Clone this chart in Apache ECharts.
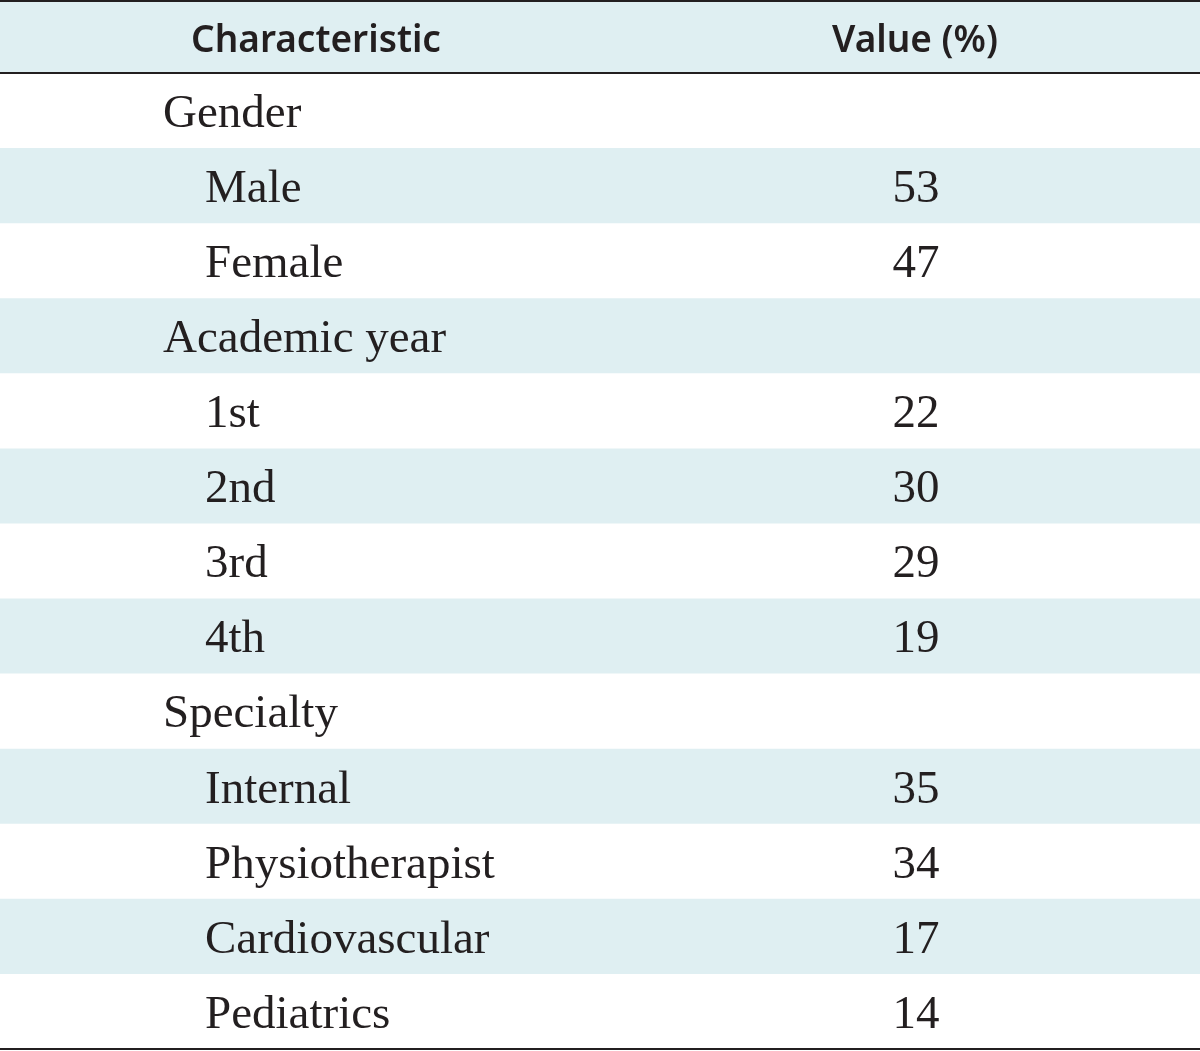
<!DOCTYPE html>
<html>
<head>
<meta charset="utf-8">
<script src="https://cdn.jsdelivr.net/npm/echarts@6/dist/echarts.min.js"></script>
<style>html,body{margin:0;padding:0;background:#fff}#c{width:1200px;height:1051px}</style>
</head>
<body>
<div id="c"></div>
<script>
const headers = ['Characteristic', 'Value (%)'];
const groups = ['Gender', 'Academic year', 'Specialty'];
const genderItems = ['Male', 'Female'];
const genderValues = [53, 47];
const yearItems = ['1st', '2nd', '3rd', '4th'];
const yearValues = [22, 30, 29, 19];
const specialtyItems = ['Internal', 'Physiotherapist', 'Cardiovascular', 'Pediatrics'];
const specialtyValues = [35, 34, 17, 14];

// build rows: [rowIndex, label, value, level]
const rows = [];
function addGroup(name, items, vals) {
  rows.push([rows.length, name, '', 0]);
  items.forEach((it, i) => rows.push([rows.length, it, String(vals[i]), 1]));
}
addGroup(groups[0], genderItems, genderValues);
addGroup(groups[1], yearItems, yearValues);
addGroup(groups[2], specialtyItems, specialtyValues);
const rowNames = rows.map(r => r[1]);

const BLUE = '#dfeff2';
const INK = '#231f20';
const SERIF = '"Liberation Serif", "DejaVu Serif", serif';
const SANS = '"Noto Sans", "Open Sans", sans-serif';

const chart = echarts.init(document.getElementById('c'), null, {renderer: 'canvas'});
chart.setOption({
  animation: false,
  backgroundColor: '#fff',
  grid: {left: 0, right: 0, top: 73, bottom: 2},
  xAxis: [{
    type: 'value', min: 0, max: 1200, position: 'top',
    axisLine: {show: false}, axisTick: {show: false}, axisLabel: {show: false}, splitLine: {show: false}
  }],
  yAxis: {
    type: 'category', data: rowNames, inverse: true,
    axisLine: {show: false}, axisTick: {show: false}, axisLabel: {show: false}, splitLine: {show: false}
  },
  graphic: [
    {type: 'rect', shape: {x: 0, y: 2, width: 1200, height: 71}, style: {fill: BLUE}, z: 0},
    {type: 'rect', shape: {x: 0, y: 0, width: 1200, height: 2}, style: {fill: INK}, z: 10},
    {type: 'rect', shape: {x: 0, y: 72, width: 1200, height: 2}, style: {fill: INK}, z: 10},
    {type: 'rect', shape: {x: 0, y: 1048, width: 1200, height: 2}, style: {fill: INK}, z: 10},
    {type: 'text', x: 316, y: 41, style: {text: headers[0], font: '600 37px ' + SANS, fill: INK, align: 'center', verticalAlign: 'middle'}, z: 10},
    {type: 'text', x: 915, y: 41, style: {text: headers[1], font: '600 37px ' + SANS, fill: INK, align: 'center', verticalAlign: 'middle'}, z: 10}
  ],
  series: [{
    type: 'custom',
    coordinateSystem: 'cartesian2d',
    encode: {x: 0, y: 0},
    data: rows.map(r => [0, r[0], r[1], r[2], r[3]]),
    renderItem: function (params, api) {
      const idx = api.value(1);
      const cs = params.coordSys;
      const center = api.coord([0, idx]);
      const h = api.size([0, 1])[1];
      const label = rows[idx][1];
      const val = rows[idx][2];
      const level = rows[idx][3];
      const xLabel = api.coord([level ? 205 : 163, idx])[0];
      const xVal = api.coord([916, idx])[0];
      const children = [];
      if (idx % 2 === 1) {
        children.push({type: 'rect', shape: {x: cs.x, y: center[1] - h / 2, width: cs.width, height: h}, style: {fill: BLUE}});
      }
      children.push({type: 'text', x: xLabel, y: center[1] + 4, style: {text: label, font: '47px ' + SERIF, fill: INK, align: 'left', verticalAlign: 'middle'}});
      if (val) children.push({type: 'text', x: xVal, y: center[1] + 4, style: {text: val, font: '47px ' + SERIF, fill: INK, align: 'center', verticalAlign: 'middle'}});
      return {type: 'group', children: children};
    }
  }]
});
</script>
</body>
</html>
